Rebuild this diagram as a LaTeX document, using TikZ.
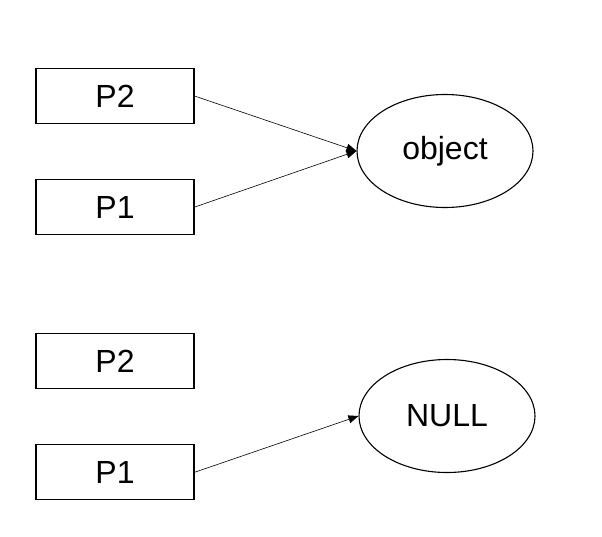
\documentclass[tikz,border=0pt]{standalone}
\usepackage{fontspec}
\setmainfont{Liberation Sans}
\usetikzlibrary{positioning,shapes.geometric,arrows.meta}

\begin{document}
\begin{tikzpicture}[x=1pt,y=-1pt,
    pbox/.style={draw, line width=1.1pt, minimum width=158pt, minimum height=55pt, font=\fontsize{32}{38}\selectfont},
    ref/.style={draw, ellipse, line width=1.1pt, minimum width=176pt, minimum height=113pt, font=\fontsize{32}{38}\selectfont},
    ptr/.style={-{Triangle[length=10pt,width=8pt]}, line width=0.6pt}]
    \useasboundingbox (0,0) rectangle (602,536);
    % both pointers refer to the object
    \node [pbox] (p2_a) at (115,96) {P2};
    \node [pbox] [below=55pt of p2_a] (p1_a) {P1};
    \node [ref] (obj) at (445,151) {object};
    % P2 now points to nothing
    \node [pbox] [below=98pt of p1_a] (p2_b) {P2};
    \node [pbox] [below=55pt of p2_b] (p1_b) {P1};
    \node [ref] (null) at (447,416) {NULL};
      \path[ptr]
      (p2_a.east) edge (obj.west)
      (p1_a.east) edge (obj.west)
      (p1_b.east) edge (null.west)
      ;
  \end{tikzpicture}
\end{document}
